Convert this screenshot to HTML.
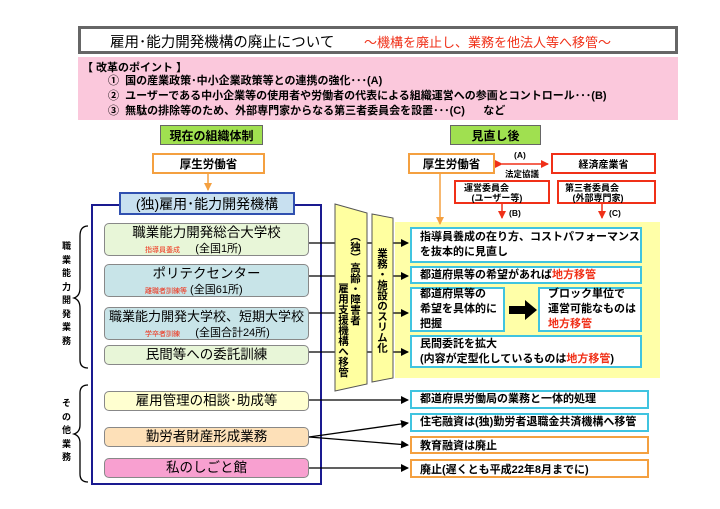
<!DOCTYPE html>
<html><head><meta charset="utf-8"><style>
body{margin:0;width:720px;height:509px;background:#fff;position:relative;overflow:hidden;font-family:"Liberation Sans","Noto Sans CJK JP",sans-serif;}
.a{position:absolute;box-sizing:border-box;}
.c{display:flex;align-items:center;justify-content:center;text-align:center;}
.b{font-weight:bold;}
.r{color:#f03018;}
.it{border:1px solid #888;border-radius:5px;font-size:13.5px;line-height:16px;}
.sm{font-size:7px;color:#f03018;}
.rb{background:#fff;border:2px solid #40c4e0;font-size:11px;font-weight:bold;padding-left:8px;display:flex;align-items:center;line-height:15px;white-space:nowrap;}
.ob{background:#fff;border:2px solid #f4a040;font-size:11px;font-weight:bold;padding-left:8px;display:flex;align-items:center;white-space:nowrap;}
.v{writing-mode:vertical-rl;font-size:10.5px;font-weight:bold;line-height:11px;white-space:nowrap;font-family:"Noto Sans CJK JP",sans-serif;}
</style></head><body>
<div class="a" style="left:78px;top:26px;width:600px;height:28px;border:3px solid #666;"></div>
<div class="a" style="left:110px;top:31px;font-size:14.5px;">雇用･能力開発機構の廃止について</div>
<div class="a r" style="left:364px;top:32px;font-size:13px;">～機構を廃止し、業務を他法人等へ移管～</div>
<div class="a" style="left:78px;top:57px;width:600px;height:63px;background:#fbc8dc;"></div>
<div class="a b" style="left:82px;top:59px;font-size:11px;">【 改革のポイント 】</div>
<div class="a b" style="left:108px;top:74px;font-size:11px;line-height:15px;">①&nbsp; 国の産業政策･中小企業政策等との連携の強化･･･(A)<br>②&nbsp; ユーザーである中小企業等の使用者や労働者の代表による組織運営への参画とコントロール･･･(B)<br>③&nbsp; 無駄の排除等のため、外部専門家からなる第三者委員会を設置･･･(C)&nbsp;&nbsp;&nbsp;&nbsp;&nbsp;&nbsp;など</div>
<div class="a c b" style="left:160px;top:125px;width:103px;height:20px;background:#a0e050;border:1px solid #666;font-size:12px;">現在の組織体制</div>
<div class="a c b" style="left:450px;top:125px;width:91px;height:20px;background:#a0e050;border:1px solid #666;font-size:12px;">見直し後</div>
<svg class="a" style="left:0;top:0" width="720" height="509">
<defs><marker id="k" markerWidth="8" markerHeight="8" refX="7" refY="4" orient="auto" markerUnits="userSpaceOnUse"><path d="M0,0L8,4L0,8z" fill="#000"/></marker>
<marker id="o" markerWidth="8" markerHeight="8" refX="7" refY="4" orient="auto" markerUnits="userSpaceOnUse"><path d="M0,0L8,4L0,8z" fill="#f4a040"/></marker>
<marker id="rr" markerWidth="8" markerHeight="8" refX="7" refY="4" orient="auto" markerUnits="userSpaceOnUse"><path d="M0,0L8,4L0,8z" fill="#f03018"/></marker></defs>
<rect x="395" y="222" width="265" height="156" fill="#ffffa8"/>
<line x1="208" y1="174" x2="208" y2="190" stroke="#f4a040" stroke-width="1.5" marker-end="url(#o)"/>
<line x1="440" y1="174" x2="440" y2="224" stroke="#f4a040" stroke-width="1.5" marker-end="url(#o)"/>
<line x1="502" y1="164" x2="548" y2="164" stroke="#f03018" stroke-width="1.5" marker-end="url(#rr)" marker-start="url(#rr)"/>
<line x1="502" y1="204" x2="502" y2="218" stroke="#f03018" stroke-width="1.5" marker-end="url(#rr)"/>
<line x1="602" y1="204" x2="602" y2="218" stroke="#f03018" stroke-width="1.5" marker-end="url(#rr)"/>
<rect x="92" y="205" width="229" height="279" fill="none" stroke="#1a1a90" stroke-width="2"/>
<g stroke="#000" stroke-width="1.3" fill="none">
<line x1="309" y1="243" x2="408" y2="243" marker-end="url(#k)"/>
<line x1="309" y1="276" x2="408" y2="276" marker-end="url(#k)"/>
<line x1="309" y1="313" x2="408" y2="313" marker-end="url(#k)"/>
<line x1="309" y1="352" x2="408" y2="352" marker-end="url(#k)"/>
<line x1="309" y1="400" x2="408" y2="400" marker-end="url(#k)"/>
<line x1="309" y1="437" x2="408" y2="423" marker-end="url(#k)"/>
<line x1="309" y1="437" x2="408" y2="445" marker-end="url(#k)"/>
<line x1="309" y1="468" x2="408" y2="468" marker-end="url(#k)"/>
<path d="M88,226 Q80,226 80,236 L80,288 Q80,296 74,298 Q80,300 80,308 L80,360 Q80,368 88,368"/>
<path d="M88,385 Q80,385 80,393 L80,425 Q80,432 74,434 Q80,436 80,443 L80,474 Q80,482 88,482"/>
</g>
<polygon points="335,204 367,213 367,384 335,391" fill="#ffffa0" stroke="#555" stroke-width="1"/>
<polygon points="372,214 393,218 393,378 372,382" fill="#ffffa0" stroke="#555" stroke-width="1"/>
<polygon points="509,306 525,306 525,300 537,310 525,320 525,314 509,314" fill="#000"/>
</svg>
<div class="a c b" style="left:152px;top:153px;width:113px;height:21px;border:2px solid #f4a040;font-size:11.5px;">厚生労働省</div>
<div class="a c b" style="left:408px;top:153px;width:87px;height:21px;border:2px solid #f4a040;font-size:11.5px;">厚生労働省</div>
<div class="a c b" style="left:551px;top:153px;width:105px;height:21px;border:2px solid #f03018;font-size:10px;">経済産業省</div>
<div class="a b" style="left:514px;top:150px;font-size:8.5px;">(A)</div>
<div class="a b" style="left:505px;top:168px;font-size:8.5px;">法定協議</div>
<div class="a b" style="left:454px;top:180px;width:96px;height:24px;border:2px solid #f03018;font-size:9px;line-height:10px;padding:1px 0 0 8px;">運営委員会<br>&nbsp;&nbsp;&nbsp;(ユーザー等)</div>
<div class="a b" style="left:557px;top:180px;width:99px;height:24px;border:2px solid #f03018;font-size:9px;line-height:10px;padding:1px 0 0 6px;">第三者委員会<br>&nbsp;&nbsp;&nbsp;(外部専門家)</div>
<div class="a b" style="left:509px;top:208px;font-size:8.5px;">(B)</div>
<div class="a b" style="left:609px;top:208px;font-size:8.5px;">(C)</div>
<div class="a c" style="left:119px;top:192px;width:176px;height:23px;background:#c8e0f0;border:2px solid #3050b0;font-size:14px;">(独)雇用･能力開発機構</div>
<div class="a it" style="left:104px;top:223px;width:205px;height:33px;background:#e8f6d8;"><div style="text-align:center;padding-top:1px">職業能力開発総合大学校</div><div style="font-size:11px;padding-left:40px"><span class="sm">指導員養成</span>&nbsp;&nbsp;&nbsp;&nbsp;&nbsp;(全国1所)</div></div>
<div class="a it" style="left:104px;top:264px;width:205px;height:33px;background:#c8e4e8;"><div style="text-align:center;padding-top:1px">ポリテクセンター</div><div style="font-size:11px;padding-left:40px"><span class="sm">離職者訓練等</span>&nbsp;(全国61所)</div></div>
<div class="a it" style="left:104px;top:307px;width:205px;height:33px;background:#c8e4e8;"><div style="text-align:center;padding-top:1px;font-size:13px;white-space:nowrap">職業能力開発大学校、短期大学校</div><div style="font-size:11px;padding-left:40px"><span class="sm">学卒者訓練</span>&nbsp;&nbsp;&nbsp;&nbsp;&nbsp;(全国合計24所)</div></div>
<div class="a it c" style="left:104px;top:345px;width:205px;height:20px;background:#e8f6d8;">民間等への委託訓練</div>
<div class="a it c" style="left:104px;top:391px;width:205px;height:20px;background:#ffffd0;">雇用管理の相談･助成等</div>
<div class="a it c" style="left:104px;top:427px;width:205px;height:20px;background:#fde0b8;">勤労者財産形成業務</div>
<div class="a it c" style="left:104px;top:458px;width:205px;height:20px;background:#f8a0d0;">私のしごと館</div>
<div class="a b" style="left:62px;top:240px;width:10px;font-size:9px;line-height:13.5px;">職業能力開発業務</div>
<div class="a b" style="left:62px;top:397px;width:10px;font-size:9px;line-height:13.5px;">その他業務</div>
<div class="a v" style="left:350px;top:231px;">（独）高齢・障害者</div>
<div class="a v" style="left:338px;top:283px;">雇用支援機構へ移管</div>
<div class="a v" style="left:377px;top:248px;">業務・施設のスリム化</div>
<div class="a rb" style="left:410px;top:227px;width:232px;height:36px;"><div>指導員養成の在り方、コストパフォーマンス<br>を抜本的に見直し</div></div>
<div class="a rb" style="left:410px;top:266px;width:232px;height:18px;"><div>都道府県等の希望があれば<span class="r">地方移管</span></div></div>
<div class="a rb" style="left:410px;top:287px;width:95px;height:45px;"><div>都道府県等の<br>希望を具体的に<br>把握</div></div>
<div class="a rb" style="left:538px;top:287px;width:104px;height:45px;"><div>ブロック単位で<br>運営可能なものは<br><span class="r">地方移管</span></div></div>
<div class="a rb" style="left:410px;top:335px;width:232px;height:33px;"><div>民間委託を拡大<br>(内容が定型化しているものは<span class="r">地方移管</span>)</div></div>
<div class="a rb" style="left:410px;top:390px;width:239px;height:19px;">都道府県労働局の業務と一体的処理</div>
<div class="a rb" style="left:410px;top:413px;width:239px;height:19px;">住宅融資は(独)勤労者退職金共済機構へ移管</div>
<div class="a ob" style="left:410px;top:436px;width:239px;height:18px;">教育融資は廃止</div>
<div class="a ob" style="left:410px;top:459px;width:239px;height:19px;">廃止(遅くとも平成22年8月までに)</div>
</body></html>
